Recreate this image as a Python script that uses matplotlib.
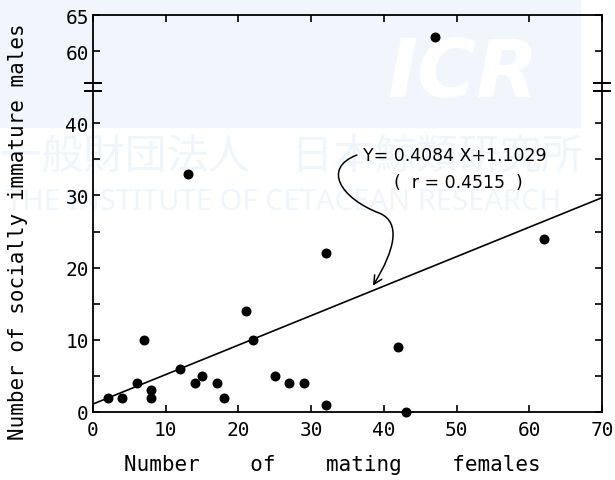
import numpy as np
import matplotlib
matplotlib.use('Agg')
import matplotlib.pyplot as plt
from matplotlib.path import Path
from matplotlib.patches import FancyArrowPatch, Rectangle

# data
females = [2, 4, 6, 7, 8, 8, 12, 13, 14, 15, 17, 18, 21, 22, 25, 27, 29, 32, 32, 42, 43, 47, 62]
males = [2, 2, 4, 10, 3, 2, 6, 33, 4, 5, 4, 2, 14, 10, 5, 4, 4, 22, 1, 9, 0, 62, 24]
slope, intercept = 0.4084, 1.1029
x_ticks = [0, 10, 20, 30, 40, 50, 60, 70]
y_tick_vals = [0, 10, 20, 30, 40, 60, 65]

brk_lo, brk_hi = 45, 55   # removed part of the y axis


def squeeze(v):
    v = np.asarray(v, dtype=float)
    return np.where(v > brk_lo, v - (brk_hi - brk_lo), v)


mono = 'DejaVu Sans Mono'
fig = plt.figure(figsize=(6.15, 4.81), dpi=100)

# faint watermark of the source, kept behind the chart
fig.patches.append(Rectangle((0, 1 - 128 / 481), 580 / 615, 128 / 481,
                             transform=fig.transFigure, color='#f0f6fb', zorder=-3))
fig.text(463 / 615, 1 - 75 / 481, 'ICR', fontsize=58, fontweight='bold', style='italic',
         color='white', ha='center', va='center', family='DejaVu Sans', zorder=-2)
fig.text(0.0, 1 - 157 / 481, '一般財団法人　日本鯨類研究所', fontsize=30, color='#eef5fb',
         ha='left', va='center', family=['Noto Sans CJK JP', 'DejaVu Sans'], zorder=-2)
fig.text(0.01, 1 - 202 / 481, 'THE INSTITUTE OF CETACEAN RESEARCH', fontsize=21,
         color='#eef5fb', ha='left', va='center', family='Noto Sans', zorder=-2)

ax = fig.add_axes([93 / 615, 1 - 413 / 481, 509 / 615, 397 / 481])
ax.patch.set_alpha(0)

ax.scatter(females, squeeze(males), s=38, color='black', zorder=3, clip_on=False)
xl = np.array([0, 70])
ax.plot(xl, slope * xl + intercept, color='black', lw=1.2)

ax.set_xlim(0, 70)
ax.set_ylim(0, 55)
ax.set_xticks(x_ticks)
ax.set_xticklabels([str(v) for v in x_ticks], family=mono, fontsize=14)
ax.set_yticks(squeeze(y_tick_vals))
ax.set_yticklabels([str(v) for v in y_tick_vals], family=mono, fontsize=14)
minor = squeeze([5, 15, 25, 35])
ax.set_yticks(minor, minor=True)
ax.tick_params(axis='both', which='both', direction='in', length=5, width=1.2,
               top=True, right=True, pad=6)
ax.tick_params(axis='y', which='major', pad=3)
for sp in ax.spines.values():
    sp.set_linewidth(1.3)

# break marks on both vertical spines
for xa in (0, 1):
    for dy in (-0.55, 0.55):
        ax.plot([xa - 0.015, xa + 0.015], [brk_lo + dy, brk_lo + dy], color='black',
                lw=1.4, transform=ax.get_yaxis_transform(), clip_on=False)

ax.set_xlabel('Number    of    mating    females', family=mono, fontsize=15)
ax.xaxis.set_label_coords(0.47, -0.105)
ax.set_ylabel('Number of socially immature males', family=mono, fontsize=15)
ax.yaxis.set_label_coords(-0.128, 0.456)

ax.text(49.7, 35.6, 'Y= 0.4084 X+1.1029', fontsize=12.5, ha='center', va='center')
ax.text(50.2, 31.8, '(  r = 0.4515  )', fontsize=12.5, ha='center', va='center')

# curly arrow from the equation to the line
verts = [(36.3, 35.6), (31.5, 33.8), (34.0, 29.6), (39.5, 27.5),
         (42.3, 26.2), (41.6, 22.6), (38.5, 17.5)]
codes = [Path.MOVETO, Path.CURVE4, Path.CURVE4, Path.CURVE4,
         Path.CURVE4, Path.CURVE4, Path.CURVE4]
arrow = FancyArrowPatch(path=Path(verts, codes), arrowstyle='->,head_length=6,head_width=3',
                        color='black', lw=1.1, transform=ax.transData)
ax.add_patch(arrow)

fig.savefig('out.png', dpi=100)
